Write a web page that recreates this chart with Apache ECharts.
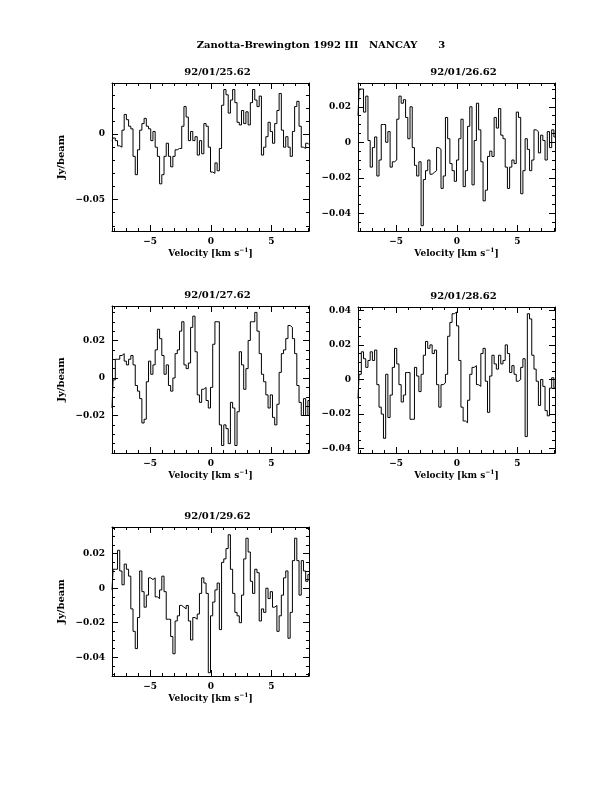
<!DOCTYPE html>
<html><head><meta charset="utf-8">
<script src="https://cdn.jsdelivr.net/npm/echarts@6/dist/echarts.min.js"></script>
<style>html,body{margin:0;padding:0;background:#fff}#c{width:612px;height:792px}</style>
</head><body><div id="c"></div>
<script>
const mainTitle = 'Zanotta-Brewington 1992 III   NANCAY      3';
const panelDates = ['92/01/25.62', '92/01/26.62', '92/01/27.62', '92/01/28.62', '92/01/29.62'];
const xAxisName = 'Velocity [km s{sup|\u22121}]';
const yAxisName = 'Jy/beam';

// channel velocity grid (km/s): first and last channel centres
const velFirst = -8.15;
const velLast = 8.1;

const flux1 = [-0.005,-0.003,-0.005,-0.009,-0.010,0.003,0.015,0.011,0.006,0.004,
-0.017,-0.031,-0.012,0.003,0.008,0.012,0.006,0.004,-0.005,0.002,
-0.010,-0.017,-0.038,-0.031,-0.017,-0.007,-0.017,-0.025,-0.017,-0.012,
-0.011,-0.011,0.006,0.021,0.013,-0.005,0.002,-0.005,-0.002,-0.016,
-0.005,-0.015,0.008,0.006,-0.010,-0.029,-0.030,-0.022,-0.028,-0.011,
0.022,0.034,0.030,0.016,0.026,0.034,0.024,0.009,0.007,0.018,
0.008,0.017,0.007,0.024,0.034,0.026,0.021,0.029,-0.016,-0.010,
-0.002,0.009,0.002,-0.007,0.008,0.018,0.031,0.003,-0.010,-0.002,
-0.010,-0.017,0.002,0.021,0.025,0.006,-0.010,-0.011,-0.007,-0.008];

const flux2 = [0.015,0.030,0.030,0.017,0.026,0.001,-0.014,-0.003,0.003,-0.019,
-0.010,0.010,0.010,0.000,0.006,-0.014,-0.011,-0.010,0.013,0.026,
0.022,0.024,0.014,0.002,0.020,-0.003,-0.013,-0.019,-0.011,-0.047,
-0.021,-0.016,-0.010,-0.018,-0.017,-0.016,-0.003,-0.004,-0.026,-0.019,
0.014,0.002,-0.012,-0.016,-0.022,-0.010,0.002,0.013,-0.025,-0.016,
0.009,0.020,-0.024,0.001,0.022,0.007,-0.011,-0.033,-0.027,-0.008,
-0.005,-0.008,0.014,0.008,0.019,0.004,0.002,-0.014,-0.026,-0.014,
-0.010,-0.012,0.017,0.014,-0.029,-0.016,0.002,-0.004,-0.016,-0.010,
0.007,0.006,-0.006,0.004,0.001,-0.010,0.006,-0.003,0.007,0.003];

const flux3 = [-0.016,-0.001,0.010,0.010,0.012,0.013,0.009,0.007,0.010,0.012,
0.007,-0.004,-0.007,-0.011,-0.024,-0.022,-0.002,0.009,0.002,0.007,
0.015,0.026,0.021,0.012,0.002,0.007,-0.004,-0.007,0.000,0.013,
0.015,0.025,0.030,0.007,0.005,0.008,0.027,0.033,0.014,-0.009,
-0.013,-0.006,-0.005,-0.012,-0.016,-0.005,0.018,0.030,0.030,-0.025,
-0.036,-0.025,-0.027,-0.035,-0.013,-0.016,-0.036,-0.018,0.014,0.007,
-0.006,0.005,0.020,0.030,0.030,0.035,0.025,0.013,0.002,-0.002,
-0.009,-0.016,-0.009,-0.021,-0.025,-0.014,0.003,0.013,0.015,0.021,
0.028,0.027,0.021,0.013,-0.004,-0.013,-0.020,-0.011,-0.020,-0.012];

const flux4 = [-0.011,0.003,0.016,0.012,0.007,0.011,0.016,0.011,0.017,-0.003,
-0.016,-0.020,-0.034,0.003,-0.022,-0.009,0.007,0.018,0.009,-0.003,
-0.013,-0.009,0.004,0.004,-0.023,-0.023,0.007,0.002,-0.007,0.003,
0.014,0.022,0.018,0.020,0.015,0.017,-0.003,-0.016,-0.003,-0.002,
0.003,0.025,0.033,0.038,0.039,0.031,0.011,-0.016,-0.024,-0.025,
-0.012,0.003,0.007,0.008,-0.003,-0.004,0.015,0.018,-0.001,-0.019,
0.002,0.014,0.009,0.006,0.014,0.009,0.011,0.020,0.015,0.004,
0.008,0.003,-0.001,0.000,0.007,0.012,-0.033,0.038,0.035,0.014,
0.006,-0.001,-0.015,0.000,-0.004,-0.018,-0.021,-0.005,0.001,-0.005];

const flux5 = [-0.001,0.011,0.011,0.022,0.010,0.002,0.014,0.011,0.007,-0.012,
-0.025,-0.035,-0.017,0.010,-0.002,-0.011,-0.004,0.006,0.005,0.006,
-0.005,-0.006,-0.001,0.007,-0.002,-0.018,-0.018,-0.028,-0.038,-0.019,
-0.016,-0.010,-0.011,-0.012,-0.010,-0.019,-0.030,-0.017,-0.018,-0.015,
-0.003,0.006,0.003,-0.003,-0.049,-0.016,-0.008,-0.001,0.003,-0.024,
0.015,0.017,0.023,0.031,0.011,-0.003,-0.014,-0.016,-0.020,-0.004,
0.017,0.029,0.021,0.004,-0.003,0.011,0.009,-0.019,-0.012,-0.014,
0.000,-0.006,-0.002,-0.011,-0.010,-0.025,-0.016,-0.004,0.006,0.010,
-0.029,-0.014,0.016,0.029,0.016,-0.004,0.016,0.010,0.004,0.008];

const fluxes = [flux1, flux2, flux3, flux4, flux5];

// axis ranges and ticks
const xMin = -8.15, xMax = 8.1;
const xMajorTicks = [-5, 0, 5];
const xMinorTicks = [-8, -7, -6, -5, -4, -3, -2, -1, 0, 1, 2, 3, 4, 5, 6, 7, 8];
const yMins = [-0.074, -0.050, -0.040, -0.0425, -0.0509];
const yMaxs = [0.039, 0.0334, 0.0384, 0.0419, 0.0355];
const yMajorTicks = [
  [-0.05, 0],
  [-0.04, -0.02, 0, 0.02],
  [-0.02, 0, 0.02],
  [-0.04, -0.02, 0, 0.02, 0.04],
  [-0.04, -0.02, 0, 0.02]
];
const yMinorSteps = [0.01, 0.005, 0.005, 0.005, 0.005];

// layout
const grids = [
  {left: 112, top: 83, width: 197, height: 148},
  {left: 358, top: 83, width: 197, height: 148},
  {left: 112, top: 306, width: 197, height: 147},
  {left: 358, top: 307, width: 197, height: 146},
  {left: 112, top: 527, width: 197, height: 149}
];
const leftColumn = [true, false, true, false, true];

function ticksBetween(lo, hi, step) {
  const out = [];
  for (let k = Math.ceil(lo / step - 1e-9); k * step <= hi + 1e-12; k++) out.push(+(k * step).toFixed(4));
  return out;
}
function fmt(v) {
  if (Math.abs(v) < 1e-12) return '0';
  return String(+v.toFixed(4)).replace('-', '\u2212');
}

const FONT = 'DejaVu Serif';
const black = '#000';
const xAxes = [], yAxes = [], series = [], graphics = [];

grids.forEach((g, p) => {
  const base = {type: 'value', gridIndex: p, splitLine: {show: false}, axisPointer: {show: false}};
  const xb = Object.assign({}, base, {min: xMin, max: xMax});
  xAxes.push(Object.assign({}, xb, {
    position: 'bottom',
    axisLine: {show: true, onZero: false, lineStyle: {color: black, width: 1}},
    axisTick: {show: true, inside: true, length: 6, customValues: xMajorTicks, lineStyle: {color: black, width: 1}},
    axisLabel: {show: true, customValues: xMajorTicks, formatter: fmt, margin: 6, color: black, fontFamily: FONT, fontWeight: 'bold', fontSize: 9},
    name: xAxisName, nameLocation: 'middle', nameGap: 16,
    nameTextStyle: {color: black, fontFamily: FONT, fontWeight: 'bold', fontSize: 9,
      rich: {sup: {fontFamily: FONT, fontWeight: 'bold', fontSize: 6, verticalAlign: 'bottom', padding: [0, 0, 7, 0], color: black}}}
  }));
  xAxes.push(Object.assign({}, xb, {
    position: 'bottom',
    axisLine: {show: false, onZero: false},
    axisTick: {show: true, inside: true, length: 3, customValues: xMinorTicks, lineStyle: {color: black, width: 1}},
    axisLabel: {show: false}
  }));
  xAxes.push(Object.assign({}, xb, {
    position: 'top',
    axisLine: {show: true, onZero: false, lineStyle: {color: black, width: 1}},
    axisTick: {show: true, inside: true, length: 6, customValues: xMajorTicks, lineStyle: {color: black, width: 1}},
    axisLabel: {show: false}
  }));
  xAxes.push(Object.assign({}, xb, {
    position: 'top',
    axisLine: {show: false, onZero: false},
    axisTick: {show: true, inside: true, length: 3, customValues: xMinorTicks, lineStyle: {color: black, width: 1}},
    axisLabel: {show: false}
  }));

  const yb = Object.assign({}, base, {min: yMins[p], max: yMaxs[p]});
  const yMinor = ticksBetween(yMins[p], yMaxs[p], yMinorSteps[p]);
  const yMajor = yMajorTicks[p];
  const yMain = Object.assign({}, yb, {
    position: 'left',
    axisLine: {show: true, onZero: false, lineStyle: {color: black, width: 1}},
    axisTick: {show: true, inside: true, length: 6, customValues: yMajor, lineStyle: {color: black, width: 1}},
    axisLabel: {show: true, customValues: yMajor, formatter: fmt, margin: 7, color: black, fontFamily: FONT, fontWeight: 'bold', fontSize: 9}
  });
  if (leftColumn[p]) {
    Object.assign(yMain, {name: yAxisName, nameLocation: 'middle', nameGap: 46, nameRotate: 90,
      nameTextStyle: {color: black, fontFamily: FONT, fontWeight: 'bold', fontSize: 10}});
  }
  yAxes.push(yMain);
  yAxes.push(Object.assign({}, yb, {
    position: 'left',
    axisLine: {show: false, onZero: false},
    axisTick: {show: true, inside: true, length: 3, customValues: yMinor, lineStyle: {color: black, width: 1}},
    axisLabel: {show: false}
  }));
  yAxes.push(Object.assign({}, yb, {
    position: 'right',
    axisLine: {show: true, onZero: false, lineStyle: {color: black, width: 1}},
    axisTick: {show: true, inside: true, length: 6, customValues: yMajor, lineStyle: {color: black, width: 1}},
    axisLabel: {show: false}
  }));
  yAxes.push(Object.assign({}, yb, {
    position: 'right',
    axisLine: {show: false, onZero: false},
    axisTick: {show: true, inside: true, length: 3, customValues: yMinor, lineStyle: {color: black, width: 1}},
    axisLabel: {show: false}
  }));

  const flux = fluxes[p];
  const n = flux.length;
  const dv = (velLast - velFirst) / (n - 1);
  series.push({
    type: 'line', step: 'middle', xAxisIndex: 4 * p, yAxisIndex: 4 * p,
    data: flux.map((f, i) => [velFirst + i * dv, f]),
    showSymbol: false, symbol: 'none', clip: true,
    lineStyle: {color: black, width: 1}, silent: true
  });

  graphics.push({
    type: 'text', x: g.left + g.width / 2 + 7, y: g.top - 11,
    style: {text: panelDates[p], fill: black, font: 'bold 10px "' + FONT + '"', textAlign: 'center', textVerticalAlign: 'middle'}
  });
});

graphics.push({
  type: 'text', x: 321, y: 45,
  style: {text: mainTitle, fill: black, font: 'bold 10px "' + FONT + '"', textAlign: 'center', textVerticalAlign: 'middle'}
});

const chart = echarts.init(document.getElementById('c'), null, {renderer: 'canvas'});
chart.setOption({
  animation: false,
  backgroundColor: '#fff',
  grid: grids.map(g => Object.assign({containLabel: false}, g)),
  xAxis: xAxes,
  yAxis: yAxes,
  series: series,
  graphic: graphics
});
</script>
</body></html>
